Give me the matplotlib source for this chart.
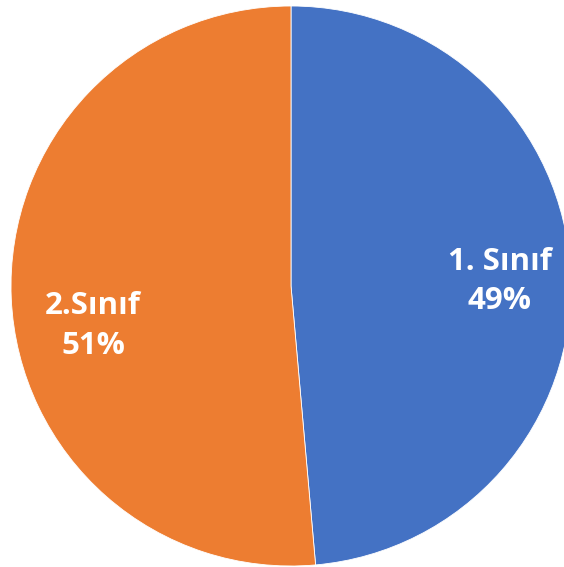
import matplotlib
matplotlib.use("Agg")
import matplotlib.pyplot as plt

categories = ["1. Sınıf", "2.Sınıf"]
values = [48.6, 51.4]
colors = ["#4472C4", "#ED7D31"]

W, H, DPI = 564, 567, 100
fig = plt.figure(figsize=(W / DPI, H / DPI), dpi=DPI)
cx, cy, r = 291, 286, 280
ax = fig.add_axes([(cx - r) / W, (H - cy - r) / H, 2 * r / W, 2 * r / H])
wedges, _ = ax.pie(values, colors=colors, startangle=90, counterclock=False,
                   radius=1.0, wedgeprops=dict(edgecolor="white", linewidth=0.6))
ax.set_xlim(-1, 1)
ax.set_ylim(-1, 1)
ax.set_aspect("equal")
ax.axis("off")

total = sum(values)
label_pos = [(0.746, 0.016), (-0.707, -0.143)]
for cat, v, (x, y) in zip(categories, values, label_pos):
    ax.text(x, y, f"{cat}\n{round(v / total * 100)}%", ha="center", va="center",
            color="white", fontsize=22.5, fontweight="bold", family="Open Sans",
            linespacing=1.42)

fig.savefig("out.png", dpi=DPI)
